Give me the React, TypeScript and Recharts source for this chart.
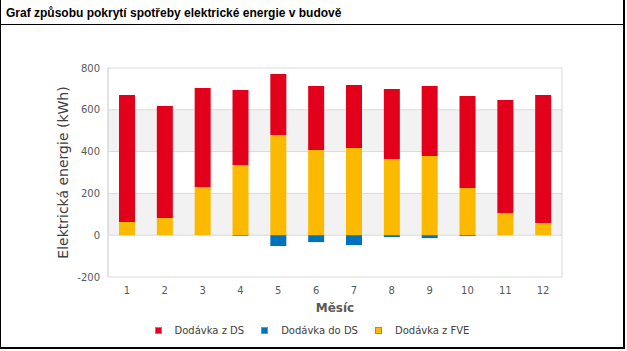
import { BarChart, Bar, XAxis, YAxis, CartesianGrid } from 'recharts'

const months = ['1', '2', '3', '4', '5', '6', '7', '8', '9', '10', '11', '12']
const dodavkaZDS = [608, 536, 473, 359, 292, 306, 302, 335, 335, 440, 541, 613]
const dodavkaDoDS = [0, 0, 0, -3, -52, -33, -47, -9, -14, -4, 0, 0]
const dodavkaZFVE = [63, 82, 231, 336, 479, 408, 417, 364, 379, 226, 106, 58]
const yTicks = [-200, 0, 200, 400, 600, 800]

const series = [
	{ key: 'ds', name: 'Dodávka z DS', color: '#E2001A' },
	{ key: 'doDs', name: 'Dodávka do DS', color: '#0072BC' },
	{ key: 'fve', name: 'Dodávka z FVE', color: '#FBBA00' },
]

const data = months.map((m, i) => ({
	mesic: m,
	ds: dodavkaZDS[i],
	doDs: dodavkaDoDS[i],
	fve: dodavkaZFVE[i],
}))

const font = 'DejaVu Sans, sans-serif'

export default function App() {
	return (
		<div
			style={{
				position: 'absolute',
				left: 0,
				top: 0,
				width: 625,
				height: 349,
				boxSizing: 'border-box',
				borderLeft: '1px solid #000',
				borderRight: '2px solid #000',
				borderBottom: '2px solid #000',
				background: '#fff',
			}}
		>
			<div
				style={{
					height: 25,
					boxSizing: 'border-box',
					borderBottom: '1px solid #000',
					paddingLeft: 5,
					paddingTop: 6,
					fontFamily: 'Liberation Sans Narrow, sans-serif',
					fontWeight: 'bold',
					fontSize: 12,
					color: '#000',
				}}
			>
				Graf způsobu pokrytí spotřeby elektrické energie v budově
			</div>
			<BarChart
				width={622}
				height={298}
				data={data}
				stackOffset='sign'
				margin={{ top: 43, right: 61, bottom: 6, left: 39 }}
				style={{ fontFamily: font }}
			>
				<CartesianGrid
					stroke='#D9D9D9'
					horizontalFill={['#FFFFFF', '#F2F2F2']}
					verticalCoordinatesGenerator={({ offset }: any) => [
						offset.left,
						offset.left + offset.width,
					]}
				/>
				<XAxis
					dataKey='mesic'
					axisLine={false}
					tickLine={false}
					height={40}
					tick={{ fill: '#595959', fontSize: 10, dy: 2 }}
					label={{
						value: 'Měsíc',
						position: 'insideBottom',
						offset: 5,
						fill: '#595959',
						fontSize: 12,
						fontWeight: 'bold',
					}}
				/>
				<YAxis
					domain={[-200, 800]}
					ticks={yTicks}
					axisLine={{ stroke: '#D9D9D9' }}
					tickLine={false}
					width={68}
					tick={{ fill: '#595959', fontSize: 10 }}
					label={{
						value: 'Elektrická energie (kWh)',
						angle: -90,
						position: 'insideLeft',
						offset: 23,
						fill: '#404040',
						fontSize: 14,
						style: { textAnchor: 'middle' },
					}}
				/>
				<Bar dataKey='fve' name='Dodávka z FVE' stackId='a' fill='#FBBA00' barSize={16} isAnimationActive={false} />
				<Bar dataKey='ds' name='Dodávka z DS' stackId='a' fill='#E2001A' barSize={16} isAnimationActive={false} />
				<Bar dataKey='doDs' name='Dodávka do DS' stackId='a' fill='#0072BC' barSize={16} isAnimationActive={false} />
			</BarChart>
			<div
				style={{
					position: 'absolute',
					top: 325,
					left: 0,
					width: 622,
					display: 'flex',
					justifyContent: 'center',
					gap: 17,
					fontFamily: font,
					fontSize: 10,
					color: '#404040',
				}}
			>
				{series.map((s) => (
					<span key={s.key} style={{ display: 'flex', alignItems: 'center' }}>
						<span
							style={{
								display: 'inline-block',
								width: 5,
								height: 5,
								background: s.color,
								border: '1px solid #8c8c8c',
								marginRight: 13,
							}}
						/>
						{s.name}
					</span>
				))}
			</div>
		</div>
	)
}
